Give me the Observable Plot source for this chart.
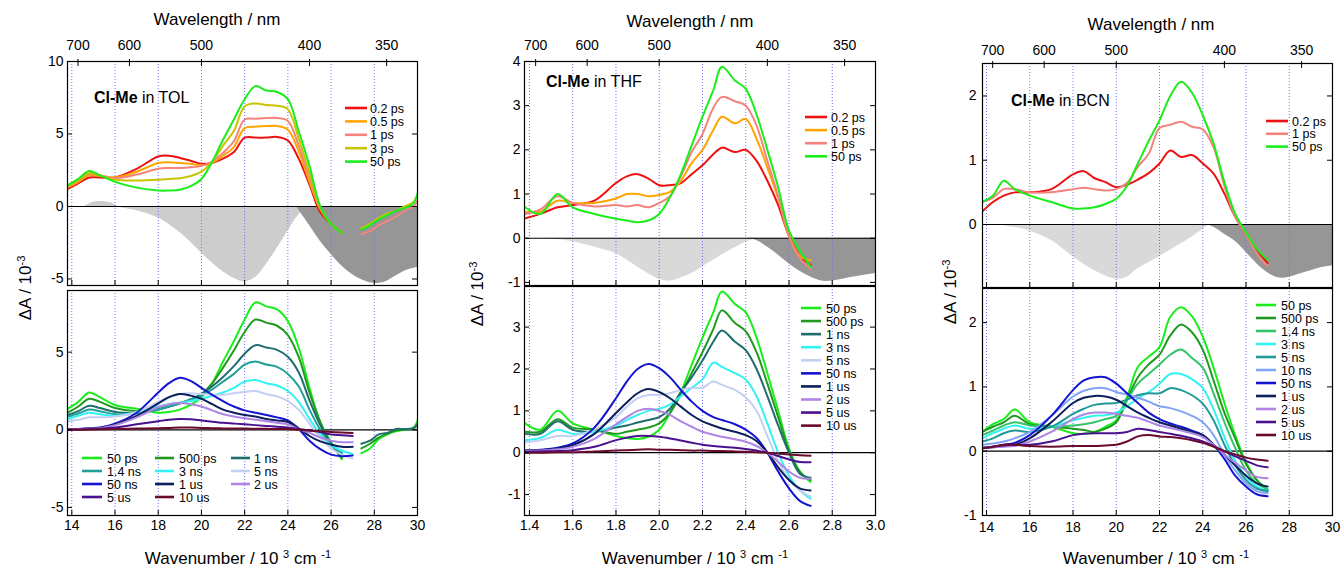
<!DOCTYPE html>
<html><head><meta charset="utf-8">
<script src="https://cdn.jsdelivr.net/npm/d3@7"></script>
<script src="https://cdn.jsdelivr.net/npm/@observablehq/plot@0.6"></script>
<style>
body{margin:0;background:#fff;}
#root{position:relative;width:1343px;height:569px;overflow:hidden;font-family:"Liberation Sans",Arial,Helvetica,sans-serif;color:#000;}
.t{position:absolute;white-space:nowrap;line-height:1;}
.sup{position:relative;top:-0.55em;font-size:0.65em;}
</style></head><body><div id="root"></div>
<script>
// ---------- shared ticks ----------
const wlTicksNm = [700, 600, 500, 400, 350];
const kTicks = [14, 16, 18, 20, 22, 24, 26, 28, 30];
const kGrid = [14, 16, 18, 20, 22, 24, 26, 28];
const thfTicks = [1.4, 1.6, 1.8, 2.0, 2.2, 2.4, 2.6, 2.8, 3.0];
const thfGrid = [1.4, 1.6, 1.8, 2.0, 2.2, 2.4, 2.6, 2.8];

// ---------- TOL ----------
const tolK = [13.8,14.3,14.8,15.3,16,17,18,18.5,19,19.5,20,20.5,21,21.5,22,22.5,23,23.5,24,24.5,25,25.5,26,26.5,27];
const tolTopLabels = ["0.2 ps","0.5 ps","1 ps","3 ps","50 ps"];
const tolTopColors = ["#ee1111","#ffa500","#f4837d","#c8c400","#1aee1a"];
const tolTop02 = [1.2,1.6,2.0,2.0,2.0,2.6,3.45,3.5,3.35,3.15,2.95,3.0,3.3,3.75,4.75,4.75,4.75,4.8,4.55,3.3,1.5,-0.4,-1.2,-1.8,null];
const tolTop05 = [1.3,1.7,2.15,2.1,2.0,2.4,3.0,3.05,3.0,2.95,2.85,3.0,3.5,4.1,5.4,5.5,5.55,5.55,5.3,3.8,1.7,-0.2,-1.2,-1.8,null];
const tolTop1 = [1.35,1.8,2.25,2.15,1.95,2.2,2.6,2.65,2.65,2.7,2.8,3.1,3.7,4.5,6.0,6.05,6.1,6.1,5.9,4.2,2.0,-0.1,-1.2,-1.8,null];
const tolTop3 = [1.4,1.85,2.3,2.15,1.85,1.8,1.85,1.9,1.95,2.1,2.4,3.1,4.2,5.2,6.9,7.1,7.0,6.95,6.7,4.7,2.3,0.0,-1.2,-1.8,null];
const tolTop50 = [1.45,1.9,2.45,2.15,1.7,1.3,1.1,1.1,1.15,1.4,1.9,3.1,4.6,6.0,7.4,8.3,8.0,7.9,7.4,5.2,2.8,0.0,-1.2,-1.8,null];
const tolTailK = [27.4,27.8,28.2,28.6,29,29.4,29.8,30];
const tolTailTop1 = [-1.9,-1.7,-1.3,-1.0,-0.7,-0.3,0.0,0.4];
const tolTailTop3 = [-1.5,-1.2,-0.8,-0.5,-0.3,0.0,0.3,0.8];
const tolTailTop50 = [-1.6,-1.3,-0.9,-0.6,-0.3,-0.1,0.2,0.9];
const tolLightK = [14.6,15,15.8,16.2,17,18,19,20,20.5,21,21.5,22,22.5,23,23.5,24,24.5,25];
const tolLight = [0,0.3,0.25,-0.05,-0.3,-0.8,-1.8,-3.2,-3.9,-4.5,-4.95,-5.2,-4.9,-4.0,-2.9,-1.7,-0.6,0];
const tolDarkK = [24.4,25,25.5,26,26.5,27,27.5,28,28.5,29,29.5,30];
const tolDark = [0,-1.3,-2.4,-3.3,-4.1,-4.7,-5.1,-5.3,-5.2,-4.8,-4.4,-4.2];

const tolBotLabels = ["50 ps","500 ps","1 ns","1.4 ns","3 ns","5 ns","50 ns","1 us","2 us","5 us","10 us"];
const tolBotColors = ["#1aee1a","#1f9a1f","#1f6e6e","#22a09a","#33f2f2","#c4cff4","#1414d0","#0c1f5c","#b084e4","#4b108e","#6a0a2c"];
const tolBot50 = [1.35,1.8,2.4,2.1,1.6,1.35,1.1,1.15,1.3,1.6,2.1,3.0,4.4,5.7,7.1,8.2,7.95,7.75,7.0,5.3,2.7,0.5,-0.8,-1.9,null];
const tolBot500 = [1.1,1.5,2.0,1.8,1.4,1.2,1.35,1.5,1.7,1.95,2.3,3.0,4.0,5.1,6.3,7.1,6.9,6.7,6.1,4.7,2.4,0.5,-0.9,-1.8,null];
const tolBot1ns = [0.95,1.2,1.55,1.4,1.15,1.1,1.3,1.5,1.7,1.95,2.3,2.8,3.4,4.1,4.9,5.45,5.3,5.15,4.7,3.7,1.9,0.3,-0.9,-1.5,null];
const tolBot14ns = [0.85,1.05,1.3,1.2,1.0,1.05,1.3,1.5,1.7,1.95,2.2,2.6,3.1,3.6,4.2,4.4,4.2,4.05,3.6,2.8,1.3,0.0,-1.0,-1.5,null];
const tolBot3ns = [0.7,0.9,1.1,1.0,0.9,1.15,1.5,1.65,1.75,1.85,2.0,2.2,2.4,2.7,3.1,3.2,3.0,2.85,2.5,1.8,0.7,-0.3,-1.0,-1.35,-1.55];
const tolBot5ns = [0.55,0.65,0.8,0.8,0.85,1.15,1.8,2.1,2.3,2.35,2.3,2.25,2.25,2.35,2.45,2.5,2.3,2.15,1.85,1.3,0.4,-0.5,-1.2,-1.6,-1.85];
const tolBot50ns = [0.02,0.05,0.1,0.15,0.4,1.1,2.4,3.0,3.35,3.15,2.7,2.25,1.85,1.5,1.25,1.1,0.95,0.8,0.6,0.05,-0.7,-1.25,-1.6,-1.7,-1.65];
const tolBot1us = [0.02,0.04,0.08,0.12,0.35,0.9,1.7,2.1,2.3,2.2,2.0,1.65,1.3,1.1,0.95,0.85,0.7,0.6,0.5,0.1,-0.4,-0.75,-0.95,-1.1,-1.1];
const tolBot2us = [0.02,0.04,0.07,0.1,0.3,0.8,1.45,1.65,1.72,1.65,1.5,1.25,1.0,0.85,0.75,0.65,0.55,0.45,0.35,0.05,-0.2,-0.5,-0.7,-0.8,-0.8];
const tolBot5us = [0.0,0.02,0.04,0.06,0.15,0.35,0.55,0.65,0.7,0.68,0.6,0.52,0.45,0.4,0.35,0.3,0.25,0.2,0.15,0.05,-0.05,-0.15,-0.3,-0.35,-0.4];
const tolBot10us = [0.0,0.01,0.02,0.03,0.05,0.08,0.1,0.12,0.15,0.14,0.12,0.1,0.09,0.08,0.08,0.07,0.06,0.05,0.05,0.0,-0.05,-0.1,-0.15,-0.18,-0.2];
const tolTailBot1ns = [-0.9,-0.7,-0.3,-0.2,0.05,0.05,0.1,0.3];
const tolTailBot500 = [-1.2,-0.9,-0.5,-0.25,-0.05,0.0,0.1,0.4];
const tolTailBot50 = [-1.5,-1.2,-0.6,-0.3,-0.1,0.0,0.1,0.6];

// ---------- THF ----------
const thfK = [1.38,1.45,1.53,1.6,1.7,1.8,1.85,1.9,1.95,2.0,2.05,2.1,2.15,2.2,2.25,2.29,2.35,2.4,2.45,2.5,2.55,2.6,2.65,2.7];
const thfTopLabels = ["0.2 ps","0.5 ps","1 ps","50 ps"];
const thfTopColors = ["#ee1111","#ffa500","#f4837d","#1aee1a"];
const thfTop02 = [0.45,0.55,0.7,0.75,0.85,1.25,1.4,1.45,1.35,1.2,1.2,1.25,1.45,1.65,1.9,2.05,1.95,2.0,1.75,1.3,0.75,0.05,-0.4,-0.6];
const thfTop05 = [0.6,0.6,0.85,0.8,0.8,0.9,1.0,1.0,0.95,0.98,1.05,1.3,1.7,2.0,2.45,2.75,2.6,2.7,2.25,1.6,0.9,0.05,-0.4,-0.5];
const thfTop1 = [0.55,0.65,0.95,0.8,0.72,0.75,0.72,0.75,0.7,0.8,0.95,1.4,1.95,2.36,2.95,3.2,3.1,3.0,2.55,1.75,0.95,0.05,-0.45,-0.7];
const thfTop50 = [0.7,0.55,1.0,0.7,0.55,0.44,0.4,0.36,0.4,0.55,0.93,1.45,2.1,2.75,3.35,3.88,3.57,3.38,2.8,2.0,1.15,0.17,-0.28,-0.65];
const thfLightK = [1.4,1.5,1.6,1.7,1.8,1.9,2.0,2.05,2.1,2.15,2.2,2.3,2.4,2.45];
const thfLight = [0,-0.02,-0.08,-0.2,-0.35,-0.65,-0.93,-0.97,-0.9,-0.8,-0.65,-0.35,-0.09,0];
const thfDarkK = [2.4,2.45,2.5,2.55,2.6,2.65,2.7,2.75,2.8,2.9,3.0];
const thfDark = [0,-0.05,-0.2,-0.38,-0.58,-0.75,-0.88,-0.97,-0.97,-0.88,-0.8];

const thfBotLabels = ["50 ps","500 ps","1 ns","3 ns","5 ns","50 ns","1 us","2 us","5 us","10 us"];
const thfBotColors = ["#1aee1a","#1f9a1f","#1f6e6e","#33f2f2","#c4cff4","#1414d0","#0c1f5c","#b084e4","#4b108e","#6a0a2c"];
const thfBot50 = [0.7,0.55,1.0,0.7,0.55,0.4,0.35,0.33,0.38,0.55,0.95,1.45,2.1,2.75,3.35,3.85,3.55,3.35,2.75,1.9,1.0,0.1,-0.45,-0.7];
const thfBot500 = [0.5,0.5,0.8,0.6,0.55,0.45,0.5,0.55,0.6,0.7,0.95,1.4,1.9,2.4,2.95,3.4,3.1,2.9,2.4,1.65,0.85,0.05,-0.45,-0.65];
const thfBot1ns = [0.45,0.45,0.75,0.55,0.5,0.6,0.65,0.72,0.78,0.85,1.05,1.45,1.8,2.2,2.65,2.92,2.65,2.45,2.0,1.35,0.65,0.0,-0.5,-0.6];
const thfBot3ns = [0.3,0.35,0.55,0.45,0.5,0.65,0.78,0.9,1.0,1.05,1.15,1.35,1.55,1.75,2.15,2.05,1.9,1.75,1.35,0.7,0.0,-0.55,-0.9,-1.1];
const thfBot5ns = [0.25,0.3,0.4,0.4,0.55,0.85,1.1,1.3,1.38,1.38,1.42,1.5,1.55,1.55,1.7,1.62,1.5,1.32,1.0,0.4,-0.2,-0.65,-0.9,-1.05];
const thfBot50ns = [0.05,0.07,0.12,0.22,0.6,1.3,1.7,2.0,2.12,2.02,1.8,1.5,1.22,1.0,0.85,0.78,0.68,0.55,0.35,0.0,-0.45,-0.85,-1.15,-1.27];
const thfBot1us = [0.05,0.06,0.1,0.18,0.45,0.95,1.2,1.42,1.52,1.45,1.3,1.1,0.9,0.75,0.65,0.58,0.5,0.42,0.28,0.0,-0.35,-0.65,-0.85,-0.9];
const thfBot2us = [0.04,0.05,0.08,0.14,0.33,0.68,0.85,1.0,1.05,1.0,0.9,0.75,0.62,0.5,0.43,0.38,0.32,0.26,0.16,0.0,-0.22,-0.45,-0.6,-0.62];
const thfBot5us = [0.02,0.03,0.04,0.06,0.14,0.3,0.36,0.4,0.4,0.38,0.34,0.29,0.24,0.19,0.16,0.14,0.12,0.09,0.05,0.0,-0.08,-0.16,-0.22,-0.23];
const thfBot10us = [0,0,0.01,0.01,0.03,0.05,0.06,0.07,0.08,0.07,0.07,0.06,0.05,0.05,0.04,0.04,0.03,0.02,0.01,0,-0.02,-0.04,-0.06,-0.07];

// ---------- BCN ----------
const bcnK = [13.8,14.3,14.8,15.3,16,17,18,18.5,19,19.5,20,20.5,21,21.5,22,22.5,23,23.5,24,24.5,25,25.5,26,26.5,27];
const bcnTopLabels = ["0.2 ps","1 ps","50 ps"];
const bcnTopColors = ["#ee1111","#f4837d","#1aee1a"];
const bcnTop02 = [0.2,0.35,0.45,0.5,0.5,0.55,0.78,0.83,0.72,0.66,0.58,0.62,0.7,0.8,0.95,1.15,1.05,1.08,0.95,0.79,0.48,0.12,-0.15,-0.4,-0.6];
const bcnTop1 = [0.35,0.42,0.55,0.55,0.5,0.5,0.55,0.57,0.55,0.53,0.55,0.65,0.9,1.1,1.5,1.55,1.6,1.52,1.48,1.2,0.6,0.12,-0.15,-0.45,-0.65];
const bcnTop50 = [0.35,0.45,0.68,0.55,0.45,0.35,0.25,0.25,0.27,0.32,0.4,0.6,0.95,1.3,1.62,2.0,2.22,2.05,1.7,1.26,0.66,0.17,-0.12,-0.38,-0.55];
const bcnLightK = [14.3,15,16,17,18,19,20,20.5,21,22,23,23.7,24.3];
const bcnLight = [0,-0.03,-0.1,-0.25,-0.5,-0.72,-0.85,-0.82,-0.69,-0.5,-0.3,-0.15,0];
const bcnDarkK = [24.25,24.7,25,25.5,26,26.5,27,27.5,28,28.5,29,29.5,30];
const bcnDark = [0,-0.08,-0.15,-0.26,-0.43,-0.61,-0.75,-0.83,-0.82,-0.77,-0.72,-0.67,-0.64];

const bcnBotLabels = ["50 ps","500 ps","1.4 ns","3 ns","5 ns","10 ns","50 ns","1 us","2 us","5 us","10 us"];
const bcnBotColors = ["#1aee1a","#1f9a1f","#33c46a","#33f2f2","#1f9a98","#82a4f6","#1414d0","#0c1f5c","#b084e4","#4b108e","#6a0a2c"];
const bcnBot50 = [0.3,0.42,0.5,0.65,0.45,0.38,0.28,0.27,0.3,0.38,0.48,0.84,1.31,1.47,1.62,2.09,2.24,2.1,1.78,1.3,0.75,0.25,-0.17,-0.45,-0.6];
const bcnBot500 = [0.3,0.38,0.45,0.55,0.42,0.38,0.35,0.33,0.3,0.35,0.45,0.8,1.15,1.35,1.5,1.8,1.97,1.85,1.58,1.1,0.6,0.2,-0.2,-0.45,-0.6];
const bcnBot14ns = [0.25,0.32,0.4,0.45,0.4,0.38,0.4,0.42,0.45,0.5,0.55,0.8,1.05,1.2,1.35,1.5,1.58,1.45,1.3,0.9,0.45,0.05,-0.3,-0.5,-0.6];
const bcnBot3ns = [0.2,0.28,0.35,0.4,0.35,0.38,0.48,0.52,0.55,0.56,0.6,0.7,0.82,0.92,1.05,1.2,1.2,1.12,0.98,0.65,0.22,-0.15,-0.4,-0.55,-0.62];
const bcnBot5ns = [0.15,0.2,0.28,0.32,0.3,0.38,0.58,0.66,0.72,0.74,0.75,0.8,0.87,0.9,0.9,0.98,0.95,0.87,0.74,0.48,0.1,-0.22,-0.45,-0.58,-0.62];
const bcnBot10ns = [0.1,0.12,0.15,0.2,0.3,0.55,0.85,0.94,0.98,0.98,0.92,0.88,0.83,0.77,0.7,0.67,0.62,0.55,0.45,0.25,-0.05,-0.3,-0.5,-0.62,-0.65];
const bcnBot50ns = [0.05,0.07,0.1,0.13,0.25,0.55,0.95,1.1,1.15,1.15,1.05,0.9,0.75,0.6,0.5,0.43,0.38,0.32,0.25,0.1,-0.12,-0.38,-0.55,-0.67,-0.7];
const bcnBot1us = [0.05,0.06,0.08,0.1,0.2,0.45,0.75,0.83,0.86,0.85,0.8,0.7,0.6,0.52,0.45,0.4,0.35,0.3,0.25,0.1,-0.05,-0.22,-0.38,-0.5,-0.55];
const bcnBot2us = [0.05,0.06,0.07,0.08,0.15,0.3,0.5,0.57,0.6,0.6,0.58,0.55,0.52,0.46,0.4,0.36,0.32,0.28,0.22,0.1,-0.05,-0.18,-0.3,-0.4,-0.42];
const bcnBot5us = [0.05,0.07,0.09,0.1,0.1,0.15,0.25,0.27,0.28,0.28,0.28,0.3,0.35,0.33,0.3,0.27,0.24,0.2,0.15,0.08,0.0,-0.08,-0.15,-0.22,-0.25];
const bcnBot10us = [0.04,0.07,0.1,0.1,0.08,0.07,0.08,0.08,0.08,0.09,0.1,0.15,0.23,0.25,0.23,0.22,0.2,0.17,0.13,0.07,0.0,-0.05,-0.1,-0.13,-0.15];

// ---------- drawing ----------
const root = document.getElementById("root");
const FONT = '"Liberation Sans", Arial, Helvetica, sans-serif';
const pts = (xs, ys) => xs.map((x, i) => ({x, y: ys[i]}));

function drawPlot(cfg) {
  const {L, R, T, B, top} = cfg;
  const mL = 50, mR = 8, mT = top ? 48 : 3, mB = top ? 3 : 30;
  const iw = R - L, ih = B - T;
  const marks = [];
  (cfg.areas || []).forEach(a => marks.push(Plot.areaY(pts(a.x, a.y), {x: "x", y: "y", fill: a.fill, curve: "catmull-rom", clip: true})));
  marks.push(Plot.ruleX(cfg.grid, {stroke: "#7070ff", strokeWidth: 1, strokeDasharray: "1,2"}));
  marks.push(Plot.ruleY([0], {stroke: "#000", strokeWidth: 1.2}));
  cfg.series.forEach(s => marks.push(Plot.line(pts(s.x, s.y), {x: "x", y: "y", stroke: s.color, strokeWidth: 2, curve: "catmull-rom", clip: true})));
  marks.push(Plot.frame({stroke: "#000", strokeWidth: 1.2}));
  marks.push(Plot.tickY(cfg.yTicks, {y: d => d, insetRight: iw - 5, stroke: "#000"}));
  marks.push(Plot.tickY(cfg.yTicks, {y: d => d, insetLeft: iw - 5, stroke: "#000"}));
  marks.push(Plot.tickX(cfg.xTicks, {x: d => d, insetTop: ih - 5, stroke: "#000"}));
  marks.push(Plot.axisY(cfg.yTicks, {anchor: "left", tickSize: 0, tickPadding: cfg.yPad, tickFormat: d => String(d), label: null, fontSize: 14}));
  if (top) {
    marks.push(Plot.tickX(cfg.wlPos, {x: d => d, insetBottom: ih - 5, stroke: "#000"}));
    marks.push(Plot.axisX(cfg.wlPos, {anchor: "top", tickSize: 3, tickPadding: cfg.wlPad, tickFormat: cfg.wlFmt, label: null, fontSize: 14}));
  } else {
    marks.push(Plot.axisX(cfg.xTicks, {anchor: "bottom", tickSize: 0, tickPadding: cfg.xPad, tickFormat: cfg.xFmt, label: null, fontSize: 14}));
  }
  const svg = Plot.plot({
    width: iw + mL + mR, height: ih + mT + mB,
    marginLeft: mL, marginRight: mR, marginTop: mT, marginBottom: mB,
    x: {domain: cfg.xd, label: null}, y: {domain: cfg.yd, label: null},
    style: {background: "transparent", overflow: "visible", fontFamily: FONT, fontSize: "14px", color: "#000"},
    marks
  });
  svg.style.position = "absolute";
  svg.style.left = (L - mL) + "px";
  svg.style.top = (T - mT) + "px";
  root.appendChild(svg);
  if (cfg.legend) {
    const lg = cfg.legend, ox = L - mL, oy = T - mT;
    const g = d3.select(svg).append("g").attr("font-family", FONT).attr("font-size", 12.5).attr("text-anchor", "start");
    const nc = lg.cols.length;
    lg.labels.forEach((lab, i) => {
      const c = lg.cols[i % nc], r = Math.floor(i / nc);
      const y = lg.y0 + r * lg.dy - oy;
      g.append("line").attr("x1", c[0] - ox).attr("x2", c[1] - ox).attr("y1", y).attr("y2", y)
        .attr("stroke", lg.colors[i]).attr("stroke-width", 2.6);
      g.append("text").attr("x", c[2] - ox).attr("y", y).attr("dy", "0.36em").attr("text-anchor", "start").attr("fill", "#000").text(lab);
    });
  }
}

function addText(html, x, y, size, opts = {}) {
  const d = document.createElement("div");
  d.className = "t";
  d.innerHTML = html;
  d.style.fontSize = size + "px";
  d.style.left = x + "px";
  d.style.top = y + "px";
  d.style.transform = opts.rotate ? "translate(-50%,-50%) rotate(-90deg)" : (opts.left ? "translate(0,-50%)" : "translate(-50%,-50%)");
  root.appendChild(d);
}

const wl4 = nm => 1e4 / nm;
const wl3 = nm => 1e3 / nm;
const fmt4 = k => String(Math.round(1e4 / k));
const fmt3 = k => String(Math.round(1e3 / k));

// Panel 1: TOL
drawPlot({L: 67, R: 417, T: 61, B: 285, top: true, xd: [13.8, 30], yd: [-5.45, 10],
  yTicks: [-5, 0, 5, 10], xTicks: kTicks, grid: kGrid, yPad: 4,
  wlPos: wlTicksNm.map(wl4), wlFmt: fmt4, wlPad: 9,
  areas: [{x: tolLightK, y: tolLight, fill: "#cdcdcd"}, {x: tolDarkK, y: tolDark, fill: "#969696"}],
  series: [
    {x: tolK, y: tolTop02, color: tolTopColors[0]}, {x: tolK, y: tolTop05, color: tolTopColors[1]},
    {x: tolK, y: tolTop1, color: tolTopColors[2]}, {x: tolK, y: tolTop3, color: tolTopColors[3]},
    {x: tolK, y: tolTop50, color: tolTopColors[4]},
    {x: tolTailK, y: tolTailTop1, color: tolTopColors[2]}, {x: tolTailK, y: tolTailTop3, color: tolTopColors[3]},
    {x: tolTailK, y: tolTailTop50, color: tolTopColors[4]}],
  legend: {labels: tolTopLabels, colors: tolTopColors, cols: [[345, 367, 370]], y0: 108, dy: 13.4}
});
drawPlot({L: 67, R: 417, T: 290, B: 515, top: false, xd: [13.8, 30], yd: [-5.52, 8.97],
  yTicks: [-5, 0, 5], xTicks: kTicks, grid: kGrid, yPad: 4, xPad: 5, xFmt: d => String(d),
  series: [tolBot50, tolBot500, tolBot1ns, tolBot14ns, tolBot3ns, tolBot5ns, tolBot50ns, tolBot1us, tolBot2us, tolBot5us, tolBot10us]
    .map((y, i) => ({x: tolK, y, color: tolBotColors[i]}))
    .concat([{x: tolTailK, y: tolTailBot50, color: tolBotColors[0]}, {x: tolTailK, y: tolTailBot500, color: tolBotColors[1]}, {x: tolTailK, y: tolTailBot1ns, color: tolBotColors[2]}]),
  legend: {labels: tolBotLabels, colors: tolBotColors, cols: [[82, 102, 107], [155, 174, 179], [231, 250, 254]], y0: 458, dy: 13}
});

// Panel 2: THF
drawPlot({L: 524, R: 875, T: 61, B: 285, top: true, xd: [1.377, 3.0], yd: [-1.07, 4],
  yTicks: [-1, 0, 1, 2, 3, 4], xTicks: thfTicks, grid: thfGrid, yPad: 4,
  wlPos: wlTicksNm.map(wl3), wlFmt: fmt3, wlPad: 9,
  areas: [{x: thfLightK, y: thfLight, fill: "#d9d9d9"}, {x: thfDarkK, y: thfDark, fill: "#969696"}],
  series: [thfTop02, thfTop05, thfTop1, thfTop50].map((y, i) => ({x: thfK, y, color: thfTopColors[i]})),
  legend: {labels: thfTopLabels, colors: thfTopColors, cols: [[805, 827, 831]], y0: 117, dy: 13.1}
});
drawPlot({L: 524, R: 875, T: 286, B: 515, top: false, xd: [1.377, 3.0], yd: [-1.5, 3.97],
  yTicks: [-1, 0, 1, 2, 3], xTicks: thfTicks, grid: thfGrid, yPad: 4, xPad: 5, xFmt: d => d.toFixed(1),
  series: [thfBot50, thfBot500, thfBot1ns, thfBot3ns, thfBot5ns, thfBot50ns, thfBot1us, thfBot2us, thfBot5us, thfBot10us]
    .map((y, i) => ({x: thfK, y, color: thfBotColors[i]})),
  legend: {labels: thfBotLabels, colors: thfBotColors, cols: [[801, 821, 826]], y0: 308, dy: 13.07}
});

// Panel 3: BCN
drawPlot({L: 982, R: 1332, T: 63, B: 287, top: true, xd: [13.815, 30], yd: [-0.98, 2.505],
  yTicks: [0, 1, 2], xTicks: kTicks, grid: kGrid, yPad: 6,
  wlPos: wlTicksNm.map(wl4), wlFmt: fmt4, wlPad: 6,
  areas: [{x: bcnLightK, y: bcnLight, fill: "#d9d9d9"}, {x: bcnDarkK, y: bcnDark, fill: "#969696"}],
  series: [bcnTop02, bcnTop1, bcnTop50].map((y, i) => ({x: bcnK, y, color: bcnTopColors[i]})),
  legend: {labels: bcnTopLabels, colors: bcnTopColors, cols: [[1266, 1288, 1292]], y0: 121, dy: 12.8}
});
drawPlot({L: 982, R: 1332, T: 288, B: 515, top: false, xd: [13.815, 30], yd: [-1.0, 2.53],
  yTicks: [-1, 0, 1, 2], xTicks: kTicks, grid: kGrid, yPad: 6, xPad: 7, xFmt: d => String(d),
  series: [bcnBot50, bcnBot500, bcnBot14ns, bcnBot3ns, bcnBot5ns, bcnBot10ns, bcnBot50ns, bcnBot1us, bcnBot2us, bcnBot5us, bcnBot10us]
    .map((y, i) => ({x: bcnK, y, color: bcnBotColors[i]})),
  legend: {labels: bcnBotLabels, colors: bcnBotColors, cols: [[1256, 1276, 1281]], y0: 305, dy: 13}
});

// titles
const xTitle = 'Wavenumber / 10 <span class="sup">3</span> cm <span class="sup">-1</span>';
const yTitle = '&Delta;A / 10<span class="sup">-3</span>';
addText("Wavelength / nm", 217, 19, 17);
addText("Wavelength / nm", 690, 21, 17);
addText("Wavelength / nm", 1151, 24, 17);
addText(xTitle, 238, 558, 17);
addText(xTitle, 695, 558, 17);
addText(xTitle, 1156, 558, 17);
addText(yTitle, 25, 288, 17, {rotate: true});
addText(yTitle, 477, 294, 17, {rotate: true});
addText(yTitle, 950, 292, 17, {rotate: true});
addText("<b>Cl-Me</b> in TOL", 94, 98, 16, {left: true});
addText("<b>Cl-Me</b> in THF", 546, 82, 16, {left: true});
addText("<b>Cl-Me</b> in BCN", 1011, 101, 16, {left: true});
</script></body></html>
